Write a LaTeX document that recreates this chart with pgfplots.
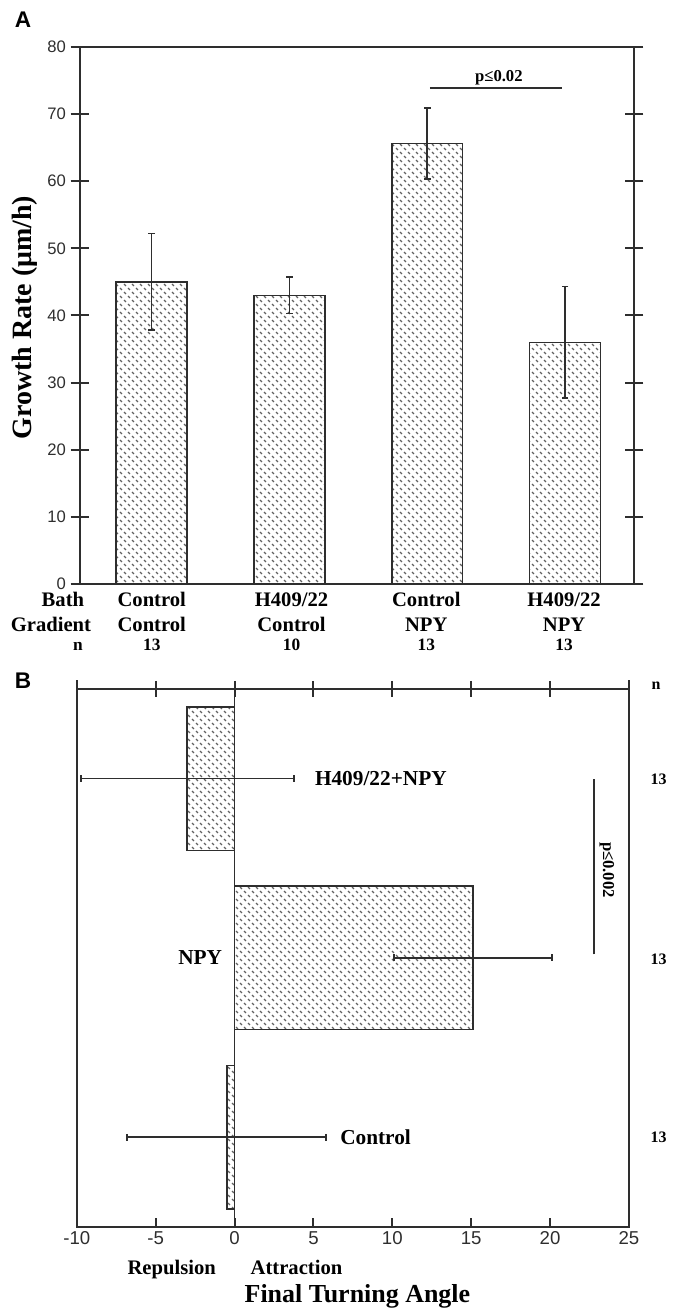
\documentclass[border=0pt]{standalone}
\usepackage{fontspec}
\setmainfont{Liberation Serif}
\newfontfamily\arialfont{Liberation Sans}
\usepackage{pgfplots}
\pgfplotsset{compat=1.18}
\usetikzlibrary{patterns.meta}

\pgfdeclarepattern{
  name=diadash,
  type=uncolored,
  bottom left={\pgfpoint{0pt}{0pt}},
  top right={\pgfpoint{6pt}{6pt}},
  tile size={\pgfpoint{6pt}{6pt}},
  code={
    \pgfsetlinewidth{1.0pt}
    \pgfsetbuttcap
    \pgfpathmoveto{\pgfpoint{0.75pt}{2.25pt}}\pgfpathlineto{\pgfpoint{2.25pt}{0.75pt}}
    \pgfpathmoveto{\pgfpoint{3.75pt}{5.25pt}}\pgfpathlineto{\pgfpoint{5.25pt}{3.75pt}}
    \pgfusepath{stroke}
  }
}

\colorlet{ink}{black!82}

\pgfplotsset{
  base/.style={
    scale only axis,
    anchor=south west,
    axis line style={line width=1.5pt, ink},
    every tick/.style={line width=1.5pt, ink},
    /pgf/number format/assume math mode=true,
    ticklabel style={text=ink},
  },
  yerr/.style={draw=ink, line width=1.3pt, mark=-, mark size=2.6pt,
    mark options={solid, line width=1.3pt, draw=ink}, forget plot},
  xerr/.style={draw=ink, line width=1.3pt, mark=|, mark size=2.6pt,
    mark options={solid, line width=1.3pt, draw=ink}, forget plot},
}

\begin{document}
\begin{tikzpicture}
\begin{scope}[x=0.75pt,y=-0.75pt]
\path[use as bounding box] (0,0) rectangle (677,1313);
\end{scope}

% ---------------- Panel A ----------------
\begin{axis}[base,
  at={(60pt,-438.75pt)},
  width=416.25pt, height=403.5pt,
  xmin=0.48, xmax=4.5, ymin=0, ymax=80,
  xtick=\empty,
  ytick={0,10,...,80},
  ytick pos=both, yticklabel pos=left,
  tick align=center, major tick length=14pt,
  yticklabel style={font=\arialfont\fontsize{12.5}{14}\selectfont},
  clip=false,
]
\addplot[ybar, bar width=0.515, draw=ink, line width=1.2pt,
  pattern=diadash, pattern color=black!62]
coordinates {(1,45.0) (2,43.0) (3,65.6) (4,36.0)};
% error bars: mean -/+ SE
\addplot[yerr] coordinates {(1,37.8) (1,52.2)};
\addplot[yerr] coordinates {(2,40.3) (2,45.7)};
\addplot[yerr] coordinates {(3,60.3) (3,70.9)};
\addplot[yerr] coordinates {(4,27.7) (4,44.3)};
\addplot[ink, line width=1.5pt] coordinates {(3.02,73.9) (3.98,73.9)};
\node[font=\bfseries\fontsize{12.5}{14}\selectfont, anchor=base] at (axis cs:3.52,74.9) {p≤0.02};
\end{axis}

% ---------------- Panel B ----------------
\begin{axis}[base,
  at={(57.75pt,-921.75pt)},
  width=414.75pt, height=404.25pt,
  xmin=-10, xmax=25, ymin=0.5, ymax=3.5,
  ytick=\empty,
  xtick={-10,-5,...,25},
  xtick pos=left,
  tick align=inside, major tick length=6.75pt,
  xticklabel style={font=\arialfont\fontsize{14}{15}\selectfont},
  clip=false,
]
\addplot[xbar, bar width=0.8, draw=ink, line width=1.2pt,
  pattern=diadash, pattern color=black!62]
coordinates {(-0.5,1) (15.1,2) (-3.0,3)};
\addplot[ink, line width=1.2pt] coordinates {(0,0.5) (0,3.5)};
% error bars: mean -/+ SE
\addplot[xerr] coordinates {(-6.8,1) (5.8,1)};
\addplot[xerr] coordinates {(10.1,2) (20.1,2)};
\addplot[xerr] coordinates {(-9.75,3) (3.75,3)};
\addplot[ink, line width=1.5pt] coordinates {(22.8,2.02) (22.8,3.0)};
\node[font=\bfseries\fontsize{12.5}{14}\selectfont, rotate=-90] at (axis cs:23.6,2.49) {p≤0.002};
\node[font=\bfseries\fontsize{16}{18}\selectfont, anchor=west] at (axis cs:4.8,3) {H409/22+NPY};
\node[font=\bfseries\fontsize{16}{18}\selectfont, anchor=east] at (axis cs:-0.5,2) {NPY};
\node[font=\bfseries\fontsize{16}{18}\selectfont, anchor=west] at (axis cs:6.4,1) {Control};
\end{axis}
% overlay axis for the crossing ticks on top of panel B
\begin{axis}[
  scale only axis, anchor=south west,
  at={(57.75pt,-921.75pt)},
  width=414.75pt, height=404.25pt,
  xmin=-10, xmax=25, ymin=0, ymax=1,
  axis x line=top, axis y line=none,
  x axis line style={-, line width=1.5pt, ink},
  every tick/.style={line width=1.5pt, ink},
  xtick={-5,0,...,20}, xticklabels={},
  tick align=center, major tick length=12pt,
]
\end{axis}

\begin{scope}[x=0.75pt,y=-0.75pt]
% small extensions of the vertical frame lines above panel B
\draw[line width=1.5pt, ink] (77,690) -- (77,681);
\draw[line width=1.5pt, ink] (630,690) -- (630,681);
% panel letters
\node[font=\arialfont\bfseries\fontsize{17}{19}\selectfont] at (23,20) {A};
\node[font=\arialfont\bfseries\fontsize{17}{19}\selectfont] at (23,682) {B};
% y label A
\node[font=\bfseries\fontsize{21}{24}\selectfont, rotate=90] at (25,318) {Growth Rate (μm/h)};
% category rows A
\begin{scope}[every node/.style={font=\bfseries\fontsize{15.5}{17}\selectfont, anchor=base}]
\node at (63,608) {Bath};
\node at (51,633) {Gradient};
\node at (152,608) {Control};
\node at (152,633) {Control};
\node at (292,608) {H409/22};
\node at (292,633) {Control};
\node at (427,608) {Control};
\node at (427,633) {NPY};
\node at (565,608) {H409/22};
\node at (565,633) {NPY};
\end{scope}
\begin{scope}[every node/.style={font=\bfseries\fontsize{13}{15}\selectfont, anchor=base}]
\node at (78,652) {n};
\node at (152,652) {13};
\node at (292,652) {10};
\node at (427,652) {13};
\node at (565,652) {13};
\end{scope}
% n column B
\begin{scope}[every node/.style={font=\bfseries\fontsize{12}{14}\selectfont, anchor=base west}]
\node at (648,691) {n};
\node at (647,786) {13};
\node at (647,966) {13};
\node at (647,1144) {13};
\end{scope}
% x labels B
\node[font=\bfseries\fontsize{15.5}{17}\selectfont, anchor=base] at (172,1277) {Repulsion};
\node[font=\bfseries\fontsize{15.5}{17}\selectfont, anchor=base] at (297,1277) {Attraction};
\node[font=\bfseries\fontsize{19.5}{22}\selectfont, anchor=base] at (358,1305) {Final Turning Angle};
\end{scope}
\end{tikzpicture}
\end{document}
